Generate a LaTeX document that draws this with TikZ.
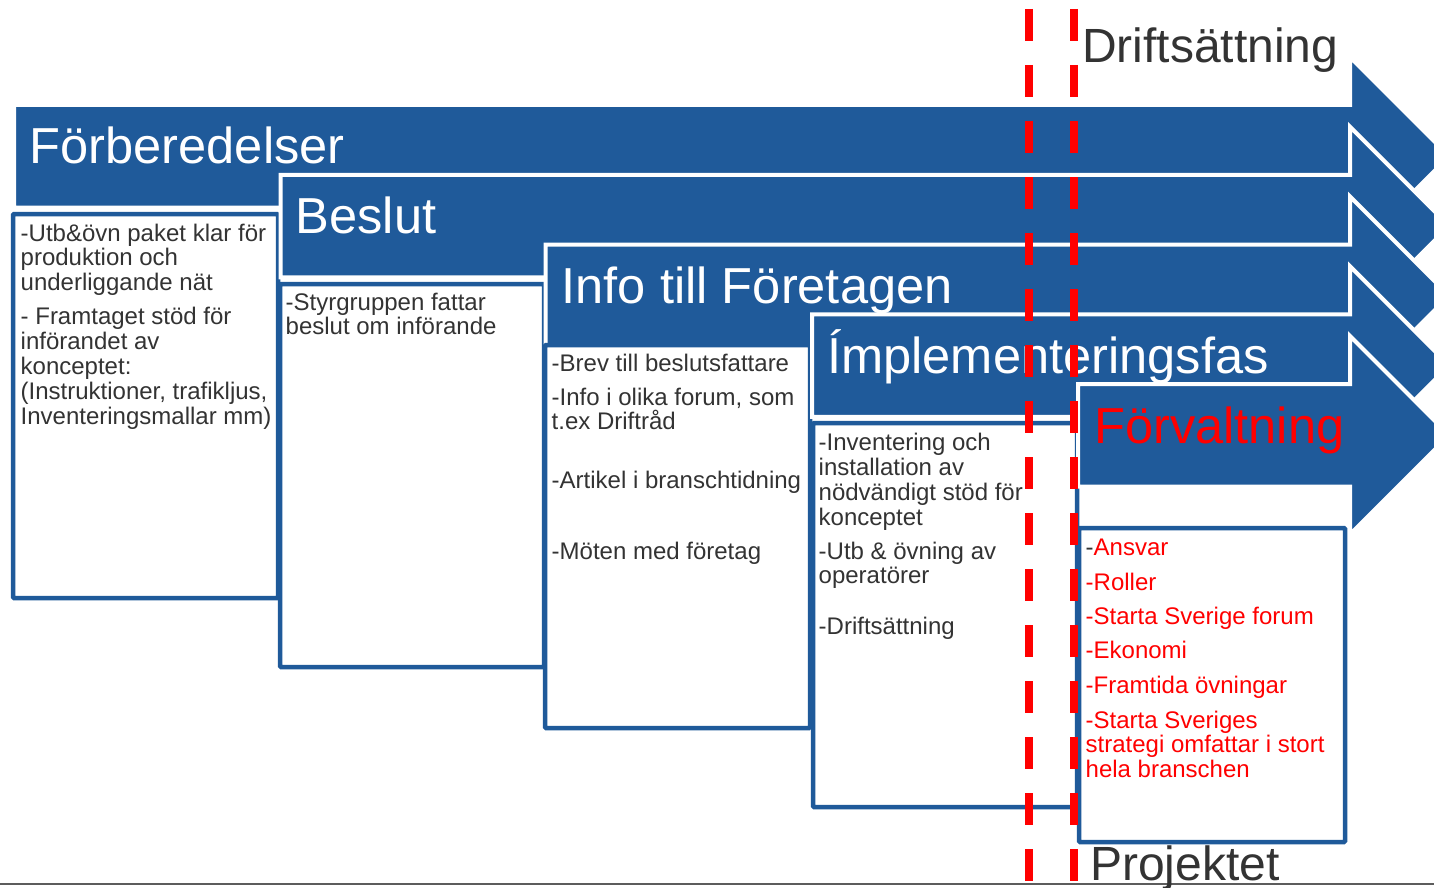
\documentclass[tikz,border=0pt]{standalone}
\usepackage{fontspec}
\setmainfont{Liberation Sans}
\definecolor{pblue}{RGB}{31,90,154}
\definecolor{dgray}{RGB}{51,51,51}
\definecolor{pred}{RGB}{255,0,0}
\newcommand{\phasearrow}[2]{%
  \filldraw[arrowshape] (#1,#2) -- (1350,#2) -- (1350,#2-48) -- (1449.25,#2+51.25)
    -- (1350,#2+150.5) -- (1350,#2+102.5) -- (#1,#2+102.5) -- cycle;}
\begin{document}
\begin{tikzpicture}[x=1pt,y=-1pt,
  arrowshape/.style={fill=pblue, draw=white, line width=4pt, line join=miter},
  phasebox/.style={draw=pblue, fill=white, line width=4.5pt, rounded corners=1pt},
  title/.style={anchor=base west, inner sep=0pt, font=\fontsize{50.6}{60}\selectfont, text=white},
  boxtext/.style={anchor=base west, inner sep=0pt, font=\fontsize{24}{24.9}\selectfont, text=dgray},
  redtext/.style={boxtext, text=pred},
  bigtext/.style={anchor=base west, inner sep=0pt, font=\fontsize{48}{56}\selectfont, text=dgray},
  milestone/.style={draw=pred, line width=8pt, dash pattern=on 32pt off 24pt},
  baseline line/.style={draw=dgray!80, line width=1.5pt}]
\useasboundingbox (0,0) rectangle (1434,888);
\clip (0,0) rectangle (1434,888);

% phase 1
\phasearrow{14}{105}
\node[title] (t1) at (29.5,164) {Förberedelser};
\draw[phasebox] (13,214) rectangle (278,598);
\node[boxtext] (b1a) at (20.5,241) {\vtop{\hbox{-Utb\&övn paket klar för}\hbox{produktion och}\hbox{underliggande nät}}};
\node[boxtext] (b1b) at (20.5,324.5) {\vtop{\hbox{- Framtaget stöd för}\hbox{införandet av}\hbox{konceptet:}\hbox{(Instruktioner, trafikljus,}\hbox{Inventeringsmallar mm)}}};

% phase 2
\phasearrow{280.5}{174.75}
\node[title] (t2) at (295.5,233.5) {Beslut};
\draw[phasebox] (280,284) rectangle (544,667);
\node[boxtext] (b2a) at (285.5,310) {\vtop{\hbox{-Styrgruppen fattar}\hbox{beslut om införande}}};

% phase 3
\phasearrow{545.5}{244.5}
\node[title] (t3) at (561.5,303.5) {Info till Företagen};
\draw[phasebox] (545,345) rectangle (810,728);
\node[boxtext] (b3a) at (551.5,371) {-Brev till beslutsfattare};
\node[boxtext] (b3b) at (551.5,405) {\vtop{\hbox{-Info i olika forum, som}\hbox{t.ex Driftråd}}};
\node[boxtext] (b3c) at (551.5,488.5) {-Artikel i branschtidning};
\node[boxtext] (b3d) at (551.5,559) {-Möten med företag};

% phase 4
\phasearrow{812}{314.25}
\node[title] (t4) at (827,373) {Ímplementeringsfas};
\draw[phasebox] (813,423) rectangle (1077,807);
\node[boxtext] (b4a) at (818.5,450.5) {\vtop{\hbox{-Inventering och}\hbox{installation av}\hbox{nödvändigt stöd för}\hbox{konceptet}}};
\node[boxtext] (b4b) at (818.5,559) {\vtop{\hbox{-Utb \& övning av}\hbox{operatörer}}};
\node[boxtext] (b4c) at (818.5,634) {-Driftsättning};

% phase 5
\phasearrow{1078}{384}
\node[title, text=pred] (t5) at (1094,443) {Förvaltning};
\draw[phasebox] (1079,528) rectangle (1345,842);
\node[redtext] (b5a) at (1085.5,555.5) {{\color{dgray}-}Ansvar};
\node[redtext] (b5b) at (1085.5,590) {-Roller};
\node[redtext] (b5c) at (1085.5,624) {-Starta Sverige forum};
\node[redtext] (b5d) at (1085.5,658) {-Ekonomi};
\node[redtext] (b5e) at (1085.5,693) {-Framtida övningar};
\node[redtext] (b5f) at (1085.5,728) {\vtop{\hbox{-Starta Sveriges}\hbox{strategi omfattar i stort}\hbox{hela branschen}}};

% bottom line
\coordinate (bl) at (0,884);
\coordinate (br) at (1434,884);
\draw[baseline line] (bl) -- (br);

% milestone dashed lines
\coordinate (m1top) at (1029,9);
\coordinate (m1bot) at (1029,900);
\coordinate (m2top) at (1074,9);
\coordinate (m2bot) at (1074,900);
\draw[milestone] (m1top) -- (m1bot);
\draw[milestone] (m2top) -- (m2bot);

\node[bigtext] (drift) at (1082,63) {Driftsättning};
\node[bigtext] (proj) at (1090,880) {Projektet};
\end{tikzpicture}
\end{document}
